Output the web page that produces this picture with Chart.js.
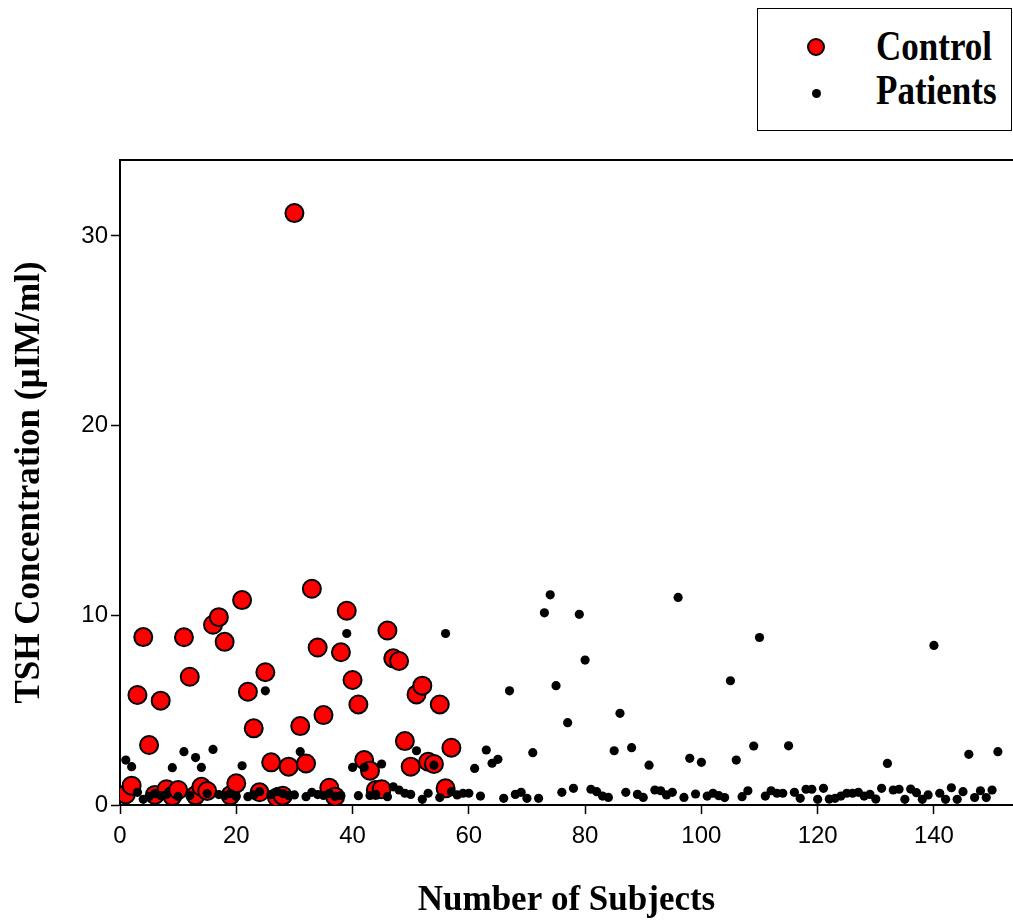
<!DOCTYPE html>
<html>
<head>
<meta charset="utf-8">
<script src="https://cdn.jsdelivr.net/npm/chart.js@4/dist/chart.umd.min.js"></script>
<style>
  html, body { margin: 0; padding: 0; background: #fff; overflow: hidden; }
  #wrap { position: relative; width: 1013px; height: 920px; }
  #legend {
    position: absolute; left: 757px; top: 8px; width: 253px; height: 121px;
    border: 1.5px solid #000; background: #fff;
  }
  .lg-text {
    position: absolute; left: 118px; font: bold 35px "Liberation Serif", "Times New Roman", serif;
    line-height: 35px; white-space: nowrap; color: #000;
    transform: scaleY(1.2); transform-origin: 0 29px;
  }
  .lg-red {
    position: absolute; left: 49px; top: 29px; width: 14px; height: 14px;
    border: 2px solid #000; border-radius: 50%; background: #ff0000;
  }
  .lg-dot {
    position: absolute; left: 54px; top: 80px; width: 9px; height: 9px;
    border-radius: 50%; background: #000;
  }
</style>
</head>
<body>
<div id="wrap">
  <canvas id="chart" width="1013" height="920"></canvas>
  <div id="legend">
    <div class="lg-red"></div>
    <div class="lg-text" style="top:22px">Control</div>
    <div class="lg-dot"></div>
    <div class="lg-text" style="top:66px">Patients</div>
  </div>
</div>
<script>
// TSH values, one per subject (subject number = position in list)
const controlValues = [
  0.56, 1.02, 5.8, 8.85, 3.16, 0.53, 5.5, 0.83, 0.47, 0.79,
  8.84, 6.76, 0.51, 0.96, 0.74, 9.5, 9.9, 8.6, 0.51, 1.14,
  10.8, 5.97, 4.04, 0.67, 7.0, 2.25, 0.4, 0.49, 2.02, 31.2,
  4.16, 2.19, 11.4, 8.3, 4.74, 0.91, 0.44, 8.05, 10.24, 6.59,
  5.3, 2.37, 1.81, 0.79, 0.83, 9.2, 7.73, 7.59, 3.37, 2.02,
  5.83, 6.29, 2.28, 2.16, 5.3, 0.88, 3.02
];

const patientValues = [
  2.37, 2.02, 0.67, 0.3, 0.45, 0.6, 0.5, 0.55, 1.97, 0.45,
  2.81, 0.5, 2.5, 1.98, 0.6, 2.93, 0.55, 0.5, 0.6, 0.45,
  2.07, 0.44, 0.53, 0.7, 6.02, 0.55, 0.7, 0.6, 0.5, 0.53,
  2.81, 0.44, 0.67, 0.55, 0.5, 0.6, 0.45, 0.5, 9.04, 1.98,
  0.49, 1.98, 0.5, 0.56, 2.16, 0.44, 0.96, 0.79, 0.62, 0.56,
  2.86, 0.3, 0.62, 2.1, 0.39, 9.04, 0.7, 0.53, 0.62, 0.62,
  1.93, 0.47, 2.9, 2.2, 2.41, 0.35, 6.02, 0.56, 0.67, 0.35,
  2.76, 0.35, 10.13, 11.08, 6.29, 0.67, 4.34, 0.88, 10.05, 7.64,
  0.83, 0.7, 0.47, 0.4, 2.86, 4.83, 0.67, 3.02, 0.56, 0.4,
  2.1, 0.79, 0.75, 0.53, 0.67, 10.94, 0.4, 2.46, 0.58, 2.25,
  0.47, 0.62, 0.49, 0.39, 6.55, 2.37, 0.44, 0.75, 3.11, 8.83,
  0.47, 0.75, 0.62, 0.62, 3.12, 0.67, 0.35, 0.83, 0.83, 0.3,
  0.88, 0.31, 0.35, 0.47, 0.62, 0.62, 0.67, 0.47, 0.56, 0.31,
  0.88, 2.19, 0.79, 0.83, 0.3, 0.84, 0.65, 0.3, 0.53, 8.41,
  0.62, 0.3, 0.91, 0.3, 0.7, 2.67, 0.39, 0.75, 0.39, 0.79,
  2.81
];

const xTicks = [0, 20, 40, 60, 80, 100, 120, 140];
const yTicks = [0, 10, 20, 30];

const toPoints = (vals) => vals.map((v, i) => ({ x: i + 1, y: v }));

// top spine only (the reference has no right spine)
const topLine = {
  id: "topLine",
  afterDraw(chart) {
    const { ctx, chartArea } = chart;
    ctx.save();
    ctx.strokeStyle = "#000";
    ctx.lineWidth = 2;
    ctx.beginPath();
    ctx.moveTo(chartArea.left - 1, chartArea.top);
    ctx.lineTo(chartArea.right, chartArea.top);
    ctx.stroke();
    ctx.restore();
  },
};

const tickFont = { family: "'Liberation Sans', Arial, sans-serif", size: 24 };
const titleFont = { family: "'Liberation Serif', 'Times New Roman', serif", size: 35, weight: "bold" };

new Chart(document.getElementById("chart"), {
  type: "scatter",
  data: {
    datasets: [
      {
        label: "Patients",
        data: toPoints(patientValues),
        backgroundColor: "#000",
        borderWidth: 0,
        pointRadius: 4.6,
      },
      {
        label: "Control",
        data: toPoints(controlValues),
        backgroundColor: "#ff0000",
        borderColor: "#000",
        borderWidth: 2,
        pointRadius: 9,
      },
    ],
  },
  options: {
    responsive: false,
    animation: false,
    layout: { autoPadding: false, padding: { top: 160, right: 0, left: 0, bottom: 0 } },
    plugins: { legend: { display: false }, tooltip: { enabled: false } },
    scales: {
      x: {
        type: "linear",
        min: 0,
        max: 153.6,
        afterBuildTicks: (s) => { s.ticks = xTicks.map((v) => ({ value: v })); },
        afterFit: (s) => { s.height = 115; s.paddingLeft = 0; s.paddingRight = 0; },
        grid: { drawOnChartArea: false, color: "#000", tickLength: 9, tickWidth: 1.5 },
        border: { color: "#000", width: 2 },
        ticks: { color: "#000", font: tickFont, padding: 8, maxRotation: 0 },
        title: { display: true, text: "Number of Subjects", color: "#000", font: titleFont, padding: { top: 0, bottom: -2 } },
      },
      y: {
        min: 0,
        max: 34,
        afterBuildTicks: (s) => { s.ticks = yTicks.map((v) => ({ value: v })); },
        afterFit: (s) => { s.width = 120; s.paddingTop = 0; s.paddingBottom = 0; },
        grid: { drawOnChartArea: false, color: "#000", tickLength: 9, tickWidth: 1.5 },
        border: { color: "#000", width: 2 },
        ticks: { color: "#000", font: tickFont, padding: 3 },
        title: { display: true, text: "TSH Concentration (µIM/ml)", color: "#000", font: titleFont, padding: { top: 9, bottom: 0 } },
      },
    },
  },
  plugins: [topLine],
});
</script>
</body>
</html>
